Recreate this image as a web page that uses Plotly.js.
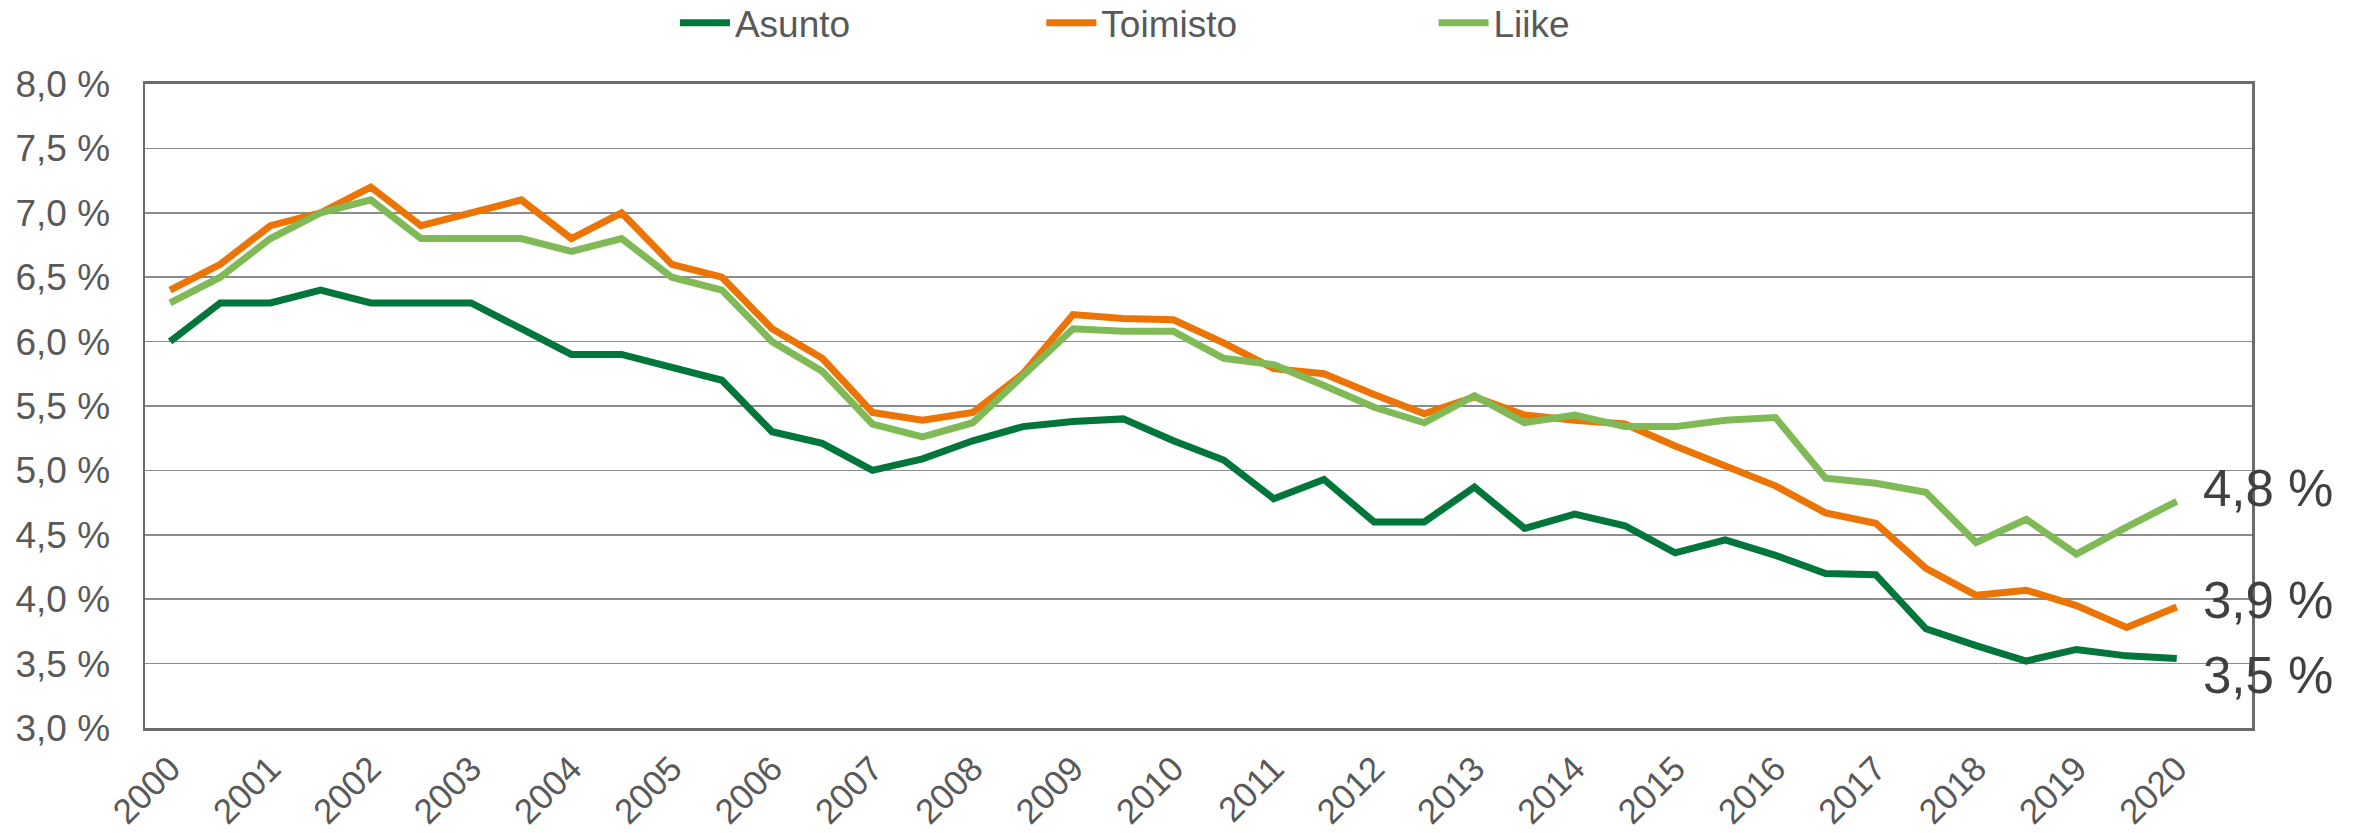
<!DOCTYPE html>
<html>
<head>
<meta charset="utf-8">
<script src="https://cdn.plot.ly/plotly-3.0.1.min.js"></script>
<style>html,body{margin:0;padding:0;background:#fff;}#chart{width:2364px;height:833px;}</style>
</head>
<body>
<div id="chart"></div>
<script>
// Half-year periods
const periods = [2000, 2000.5, 2001, 2001.5, 2002, 2002.5, 2003, 2003.5, 2004, 2004.5,
  2005, 2005.5, 2006, 2006.5, 2007, 2007.5, 2008, 2008.5, 2009, 2009.5,
  2010, 2010.5, 2011, 2011.5, 2012, 2012.5, 2013, 2013.5, 2014, 2014.5,
  2015, 2015.5, 2016, 2016.5, 2017, 2017.5, 2018, 2018.5, 2019, 2019.5, 2020];

const asunto = [6.0, 6.3, 6.3, 6.4, 6.3, 6.3, 6.3, 6.1, 5.9, 5.9,
  5.8, 5.7, 5.3, 5.21, 5.0, 5.09, 5.23, 5.34, 5.38, 5.40,
  5.23, 5.08, 4.78, 4.93, 4.60, 4.60, 4.87, 4.55, 4.66, 4.57,
  4.36, 4.46, 4.34, 4.20, 4.19, 3.77, 3.64, 3.52, 3.61, 3.56, 3.54];

const toimisto = [6.4, 6.6, 6.9, 7.0, 7.2, 6.9, 7.0, 7.1, 6.8, 7.0,
  6.6, 6.5, 6.1, 5.87, 5.45, 5.39, 5.45, 5.75, 6.21, 6.18,
  6.17, 5.99, 5.79, 5.75, 5.59, 5.44, 5.57, 5.43, 5.39, 5.36,
  5.19, 5.03, 4.88, 4.67, 4.59, 4.24, 4.03, 4.07, 3.95, 3.78, 3.94];

const liike = [6.3, 6.5, 6.8, 7.0, 7.1, 6.8, 6.8, 6.8, 6.7, 6.8,
  6.5, 6.4, 6.0, 5.77, 5.36, 5.26, 5.37, 5.73, 6.10, 6.08,
  6.08, 5.87, 5.82, 5.66, 5.49, 5.37, 5.58, 5.37, 5.43, 5.34,
  5.34, 5.39, 5.41, 4.94, 4.90, 4.83, 4.44, 4.62, 4.35, 4.56, 4.76];

const seriesNames = ["Asunto", "Toimisto", "Liike"];
const colors = ["#00763A", "#EC7404", "#7FBA56"];

const font = "Liberation Sans, Arial, sans-serif";
const grey = "#595959";

const allSeries = [asunto, toimisto, liike];
const legendIds = ["legend", "legend2", "legend3"];

const traces = allSeries.map((vals, k) => ({
  type: "scatter",
  mode: "lines",
  name: seriesNames[k],
  x: periods,
  y: vals,
  line: {color: colors[k], width: 7},
  legend: legendIds[k],
  hoverinfo: "skip"
}));

const fmt = v => v.toFixed(1).replace(".", ",") + " %";
// vertical offset (in axis units) of each end label from its last point (Asunto, Toimisto, Liike)
const labelOffset = [-0.13, 0.05, 0.10];
const annotations = allSeries.map((vals, k) => ({
  xref: "x", yref: "y",
  x: periods[periods.length - 1],
  y: vals[vals.length - 1] + labelOffset[k],
  text: fmt(vals[vals.length - 1]),
  showarrow: false,
  xanchor: "left", yanchor: "middle",
  xshift: 24,
  font: {family: font, size: 51, color: "#404040"}
}));

const legendX = [0.2855, 0.4405, 0.6064];
const mkLegend = i => ({
  orientation: "h",
  xref: "container", yref: "container",
  x: legendX[i], y: 0.972,
  xanchor: "left", yanchor: "middle",
  itemwidth: 50,
  font: {family: font, size: 37, color: grey},
  bgcolor: "rgba(0,0,0,0)",
  borderwidth: 0
});

const layout = {
  width: 2364, height: 833,
  margin: {l: 145, r: 112, t: 84, b: 105},
  paper_bgcolor: "#ffffff",
  plot_bgcolor: "#ffffff",
  separators: ", ",
  showlegend: true,
  legend: mkLegend(0),
  legend2: mkLegend(1),
  legend3: mkLegend(2),
  xaxis: {
    range: [1999.75, 2020.75],
    tickmode: "linear", tick0: 2000, dtick: 1,
    tickformat: "d",
    tickangle: -45,
    ticks: "",
    showgrid: false,
    zeroline: false,
    showline: true, mirror: true,
    linecolor: "#6b6b6b", linewidth: 3,
    tickfont: {family: font, size: 35, color: grey},
    ticklabelstandoff: 3
  },
  yaxis: {
    range: [3, 8],
    tickmode: "linear", tick0: 3, dtick: 0.5,
    tickformat: ".1f", ticksuffix: " %",
    ticks: "",
    showgrid: true, gridcolor: "#8c8c8c", gridwidth: 1.5,
    zeroline: false,
    showline: true, mirror: true,
    linecolor: "#6b6b6b", linewidth: 2.5,
    tickfont: {family: font, size: 37, color: grey},
    ticklabelstandoff: 25
  },
  annotations: annotations
};

Plotly.newPlot("chart", traces, layout, {displayModeBar: false, staticPlot: true});
</script>
</body>
</html>
